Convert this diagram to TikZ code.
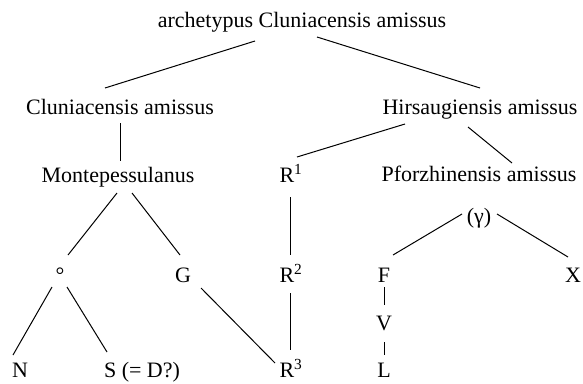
\documentclass[tikz,border=0pt]{standalone}
\usepackage{fontspec}
\setmainfont{Liberation Serif}
\usetikzlibrary{calc}
\begin{document}
\begin{tikzpicture}[x=1pt,y=-1pt,
  lbl/.style={inner sep=0pt, anchor=base, font=\fontsize{22}{26}\selectfont},
  edge/.style={line width=1pt}]
\useasboundingbox (0,0) rectangle (583,383);
\node[lbl] (arch) at (302,27) {archetypus Cluniacensis amissus};
\node[lbl] (clun) at (120,114) {Cluniacensis amissus};
\node[lbl] (hirs) at (480,114) {Hirsaugiensis amissus};
\node[lbl] (mont) at (118,182) {Montepessulanus};
\node[lbl] (r1) at (291,182) {R\textsuperscript{1}};
\node[lbl] (pforz) at (479,181) {Pforzhinensis amissus};
\node[lbl] (gamma) at (479,223) {(γ)};
\node[lbl] (circ) at (60,282) {°};
\node[lbl] (g) at (183,282) {G};
\node[lbl] (r2) at (291,282) {R\textsuperscript{2}};
\node[lbl] (f) at (384,282) {F};
\node[lbl] (x) at (573,282) {X};
\node[lbl] (v) at (384,330) {V};
\node[lbl] (n) at (20,377) {N};
\node[lbl] (s) at (142,377) {S (= D?)};
\node[lbl] (r3) at (291,377) {R\textsuperscript{3}};
\node[lbl] (l) at (384,377) {L};
\draw[edge] ($(arch.base)+(-47,14)$) -- ($(clun.base)+(-15,-26)$);
\draw[edge] ($(arch.base)+(15,10)$) -- ($(hirs.base)+(0,-26)$);
\draw[edge] ($(clun.base)+(0,9)$) -- ($(mont.base)+(2,-21)$);
\draw[edge] ($(hirs.base)+(-75,10)$) -- ($(r1.base)+(6,-25)$);
\draw[edge] ($(hirs.base)+(-12,13)$) -- ($(pforz.base)+(33,-18)$);
\draw[edge] ($(mont.base)+(-1,11)$) -- ($(circ.base)+(8,-27)$);
\draw[edge] ($(mont.base)+(14,11)$) -- ($(g.base)+(-3,-27)$);
\draw[edge] ($(circ.base)+(-8,5)$) -- ($(n.base)+(-7,-22)$);
\draw[edge] ($(circ.base)+(7,5)$) -- ($(s.base)+(-35,-25)$);
\draw[edge] ($(g.base)+(18,6)$) -- ($(r3.base)+(-16,-14)$);
\draw[edge] ($(r1.base)+(-1,15)$) -- ($(r2.base)+(-1,-27)$);
\draw[edge] ($(r2.base)+(-1,11)$) -- ($(r3.base)+(-1,-27)$);
\draw[edge] ($(gamma.base)+(-17,-9)$) -- ($(f.base)+(9,-27)$);
\draw[edge] ($(gamma.base)+(18,-9)$) -- ($(x.base)+(-5,-25)$);
\draw[edge] ($(f.base)+(0,5)$) -- ($(v.base)+(0,-25)$);
\draw[edge] ($(v.base)+(0,12)$) -- ($(l.base)+(0,-22)$);
\end{tikzpicture}
\end{document}
